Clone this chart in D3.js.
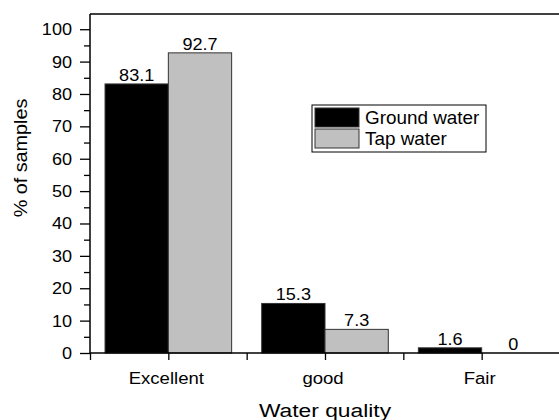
<!DOCTYPE html>
<html>
<head>
<meta charset="utf-8">
<script src="https://cdn.jsdelivr.net/npm/d3@7/dist/d3.min.js"></script>
<style>
  html, body { margin: 0; padding: 0; background: #fff; }
  svg { display: block; }
  text { font-family: "Liberation Sans", Arial, Helvetica, sans-serif; fill: #000; }
</style>
</head>
<body>
<svg id="chart" width="559" height="420"></svg>
<script>
const categories = ["Excellent", "good", "Fair"];
const seriesNames = ["Ground water", "Tap water"];
const groundWater = [83.1, 15.3, 1.6];
const tapWater = [92.7, 7.3, 0];
const seriesColors = ["#000000", "#c0c0c0"];
const yTicks = [0, 10, 20, 30, 40, 50, 60, 70, 80, 90, 100];
const yMinorTicks = [5, 15, 25, 35, 45, 55, 65, 75, 85, 95];
const xLabel = "Water quality";
const yLabel = "% of samples";

const svg = d3.select("#chart");
const pLeft = 90, pRight = 560, pTop = 14, pBottom = 353;

const x0 = d3.scaleBand().domain(categories).range([pLeft, pRight]).paddingInner(0).paddingOuter(0);
const x1 = d3.scaleBand().domain(seriesNames).range([0, x0.bandwidth()]).paddingInner(0).paddingOuter(0.2375);
const y = d3.scaleLinear().domain([0, 104.7]).range([pBottom, pTop]);

const values = [groundWater, tapWater];

function sText(g, str, x, yy, size, sx, anchor) {
  return g.append("text")
    .attr("transform", `translate(${x},${yy}) scale(${sx},1)`)
    .attr("text-anchor", anchor || "middle")
    .attr("font-size", size)
    .text(str);
}

// bars
const bars = svg.append("g");
categories.forEach((c, i) => {
  seriesNames.forEach((s, j) => {
    const v = values[j][i];
    const bx = x0(c) + x1(s);
    bars.append("rect")
      .attr("x", bx)
      .attr("y", y(v))
      .attr("width", x1.bandwidth())
      .attr("height", y(0) - y(v))
      .attr("fill", seriesColors[j])
      .attr("stroke", "#333")
      .attr("stroke-width", 1);
    sText(bars, String(v), bx + x1.bandwidth() / 2, y(v) - 3, 16, 1.13);
  });
});

// frame
svg.append("line").attr("x1", pLeft).attr("x2", pRight).attr("y1", pTop).attr("y2", pTop)
  .attr("stroke", "#000").attr("stroke-width", 1.5);
svg.append("line").attr("x1", pRight).attr("x2", pRight).attr("y1", pTop).attr("y2", pBottom)
  .attr("stroke", "#000").attr("stroke-width", 1.5);

// y axis
const yAxis = d3.axisLeft(y).tickValues(yTicks).tickSize(10).tickFormat("");
const gy = svg.append("g").attr("transform", `translate(${pLeft},0)`).call(yAxis);
gy.select(".domain").attr("d", `M0,${pTop}V${pBottom}`).attr("stroke-width", 1.5);
gy.selectAll(".tick line").attr("stroke-width", 1.3);
const yMinor = d3.axisLeft(y).tickValues(yMinorTicks).tickSize(6).tickFormat("");
const gym = svg.append("g").attr("transform", `translate(${pLeft},0)`).call(yMinor);
gym.select(".domain").remove();
gym.selectAll(".tick line").attr("stroke-width", 1.3);
yTicks.forEach(t => {
  sText(svg, String(t), 72, y(t) + 6, 16, 1.13, "end");
});

// x axis
const xTickPos = [];
categories.forEach(c => { xTickPos.push(x0(c)); xTickPos.push(x0(c) + x0.bandwidth() / 2); });
xTickPos.push(pRight);
const xLin = d3.scaleLinear().domain([pLeft, pRight]).range([pLeft, pRight]);
const xAxis = d3.axisBottom(xLin).tickValues(xTickPos).tickSize(7).tickFormat("");
const gx = svg.append("g").attr("transform", `translate(0,${pBottom})`).call(xAxis);
gx.select(".domain").attr("d", `M${pLeft},0H${pRight}`).attr("stroke-width", 1.5);
gx.selectAll(".tick line").attr("stroke-width", 1.3);
categories.forEach(c => {
  sText(svg, c, x0(c) + x0.bandwidth() / 2 - 2, 384, 16, 1.16);
});

// axis titles
sText(svg, xLabel, 325, 417, 19, 1.2);
svg.append("text")
  .attr("transform", "translate(27,158) rotate(-90) scale(1.1,1)")
  .attr("text-anchor", "middle")
  .attr("font-size", 18)
  .text(yLabel);

// legend
const lg = svg.append("g");
lg.append("rect").attr("x", 312).attr("y", 105).attr("width", 174).attr("height", 47)
  .attr("fill", "#fff").attr("stroke", "#000").attr("stroke-width", 1);
seriesNames.forEach((s, j) => {
  const ly = 108 + j * 21;
  lg.append("rect").attr("x", 315).attr("y", ly).attr("width", 44).attr("height", 19)
    .attr("fill", seriesColors[j]).attr("stroke", "#333").attr("stroke-width", 1);
  sText(lg, s, 365, ly + 16, 18, 1.05, "start");
});
</script>
</body>
</html>
